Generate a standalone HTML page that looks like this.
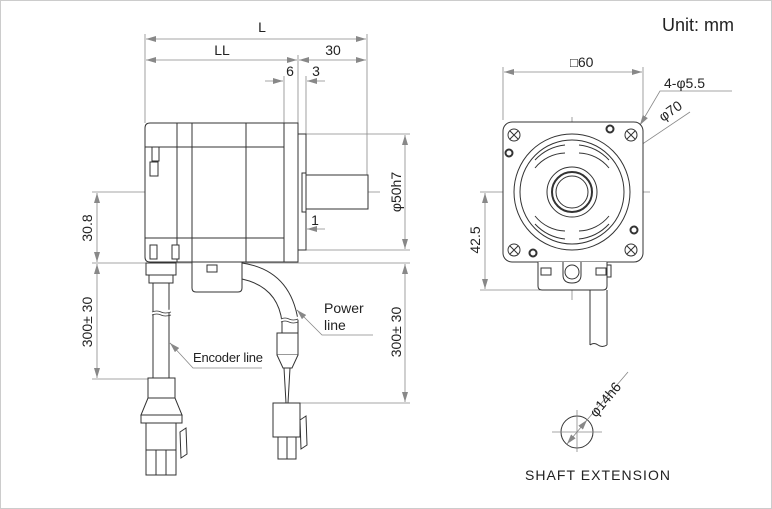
<!DOCTYPE html>
<html><head><meta charset="utf-8"><style>
html,body{margin:0;padding:0;background:#fff}
svg{display:block}
text{font-family:"Liberation Sans",sans-serif;fill:#222}
</style></head><body>
<svg width="772" height="509" viewBox="0 0 772 509" xmlns="http://www.w3.org/2000/svg">
<defs>
<marker id="a" viewBox="0 0 10 6" refX="10" refY="3" markerWidth="10" markerHeight="6" orient="auto-start-reverse" markerUnits="userSpaceOnUse"><path d="M0,0 L10,3 L0,6z" fill="#888"/></marker>
</defs>
<rect x="0.5" y="0.5" width="771" height="508" fill="#fff" stroke="#ccc"/>
<text x="662" y="31" font-size="18">Unit: mm</text>

<!-- dims thin gray -->
<g stroke="#888" stroke-width="0.8" fill="none">
<line x1="145" y1="34" x2="145" y2="123"/>
<line x1="367" y1="34" x2="367" y2="175"/>
<line x1="298" y1="55" x2="298" y2="123"/>
<line x1="284" y1="76" x2="284" y2="123"/>
<line x1="306" y1="76" x2="306" y2="134"/>
<line x1="146" y1="39" x2="366" y2="39" marker-start="url(#a)" marker-end="url(#a)"/>
<line x1="146" y1="60" x2="297" y2="60" marker-start="url(#a)" marker-end="url(#a)"/>
<line x1="299" y1="60" x2="366" y2="60" marker-start="url(#a)" marker-end="url(#a)"/>
<line x1="265" y1="81" x2="283" y2="81" marker-end="url(#a)"/>
<line x1="325" y1="81" x2="307" y2="81" marker-end="url(#a)"/>
<line x1="280" y1="229" x2="297" y2="229" marker-end="url(#a)"/>
<line x1="325" y1="229" x2="307" y2="229" marker-end="url(#a)"/>
<line x1="306" y1="134" x2="410" y2="134"/>
<line x1="306" y1="250" x2="410" y2="250"/>
<line x1="405" y1="135" x2="405" y2="249" marker-start="url(#a)" marker-end="url(#a)"/>
<line x1="92" y1="192" x2="380" y2="192"/>
<line x1="92" y1="263" x2="410" y2="263"/>
<line x1="97" y1="193" x2="97" y2="262" marker-start="url(#a)" marker-end="url(#a)"/>
<line x1="97" y1="264" x2="97" y2="378" marker-start="url(#a)" marker-end="url(#a)"/>
<line x1="92" y1="379" x2="148" y2="379"/>
<line x1="405" y1="264" x2="405" y2="402" marker-start="url(#a)" marker-end="url(#a)"/>
<line x1="300" y1="403" x2="410" y2="403"/>
<polyline points="170,343 193,368 262,368"/>
<polyline points="297,310 322,335 373,335"/>
<line x1="172" y1="345" x2="170" y2="343" marker-end="url(#a)"/>
<line x1="299" y1="312" x2="297" y2="310" marker-end="url(#a)"/>
</g>
<g font-size="14">
<text x="262" y="32" text-anchor="middle">L</text>
<text x="222" y="55" text-anchor="middle">LL</text>
<text x="333" y="55" text-anchor="middle">30</text>
<text x="290" y="76" text-anchor="middle">6</text>
<text x="316" y="76" text-anchor="middle">3</text>
<text x="315" y="225" text-anchor="middle">1</text>
<text transform="translate(401,192) rotate(-90)" text-anchor="middle">φ50h7</text>
<text transform="translate(92,228) rotate(-90)" text-anchor="middle">30.8</text>
<text transform="translate(92,322) rotate(-90)" text-anchor="middle">300± 30</text>
<text transform="translate(401,332) rotate(-90)" text-anchor="middle">300± 30</text>
<text x="324" y="313">Power</text>
<text x="324" y="330">line</text>
<text x="193" y="362" font-size="13" textLength="70">Encoder line</text>
</g>

<!-- motor side -->
<g stroke="#333" stroke-width="1" fill="#fff">
<path d="M150,123 H177 V262 H150 Q145,262 145,257 V128 Q145,123 150,123z"/>
<line x1="145" y1="147" x2="177" y2="147"/>
<line x1="145" y1="238" x2="177" y2="238"/>
<rect x="177" y="123" width="107" height="139"/>
<line x1="177" y1="147" x2="284" y2="147"/>
<line x1="177" y1="238" x2="284" y2="238"/>
<line x1="192" y1="123" x2="192" y2="262"/>
<line x1="246" y1="123" x2="246" y2="262"/>
<rect x="284" y="123" width="14" height="139"/>
<rect x="298" y="134" width="8" height="116"/>
<rect x="302" y="173" width="4" height="39"/>
<rect x="306" y="175" width="62" height="34"/>
<rect x="152" y="147" width="7" height="14"/>
<rect x="150" y="162" width="8" height="14"/>
<rect x="150" y="245" width="7" height="14"/>
<rect x="172" y="245" width="7" height="14"/>
<!-- encoder block -->
<path d="M192,262 H242 V288 Q242,292 238,292 H196 Q192,292 192,288z"/>
<rect x="207" y="265" width="10" height="7"/>
<!-- gland -->
<rect x="146" y="263" width="30" height="12"/>
<rect x="149" y="275" width="24" height="8"/>
<rect x="153" y="283" width="16" height="95"/>
<rect x="148" y="378" width="27" height="20"/>
<path d="M148,398 L141,415 H182 L175,398z"/>
<rect x="141" y="415" width="41" height="8"/>
<rect x="146" y="423" width="30" height="27"/>
<rect x="146" y="450" width="10" height="25"/>
<rect x="156" y="450" width="10" height="25"/>
<rect x="166" y="450" width="10" height="25"/>
<path d="M180,432 L186,428 L187,454 L181,458z"/>
<!-- power cable -->
<path d="M242,263 Q290,270 298,320 V335 H282 V322 Q278,287 242,279z"/>
<rect x="277" y="333" width="21" height="22"/>
<path d="M277,355 L283,368 H292 L298,355"/>
<path d="M284,368 L286,403 M290,368 L288,403" fill="none"/>
<rect x="273" y="403" width="27" height="34"/>
<rect x="278" y="437" width="9" height="22"/>
<rect x="287" y="437" width="9" height="22"/>
<path d="M300,420 L306,416 L307,445 L301,449z"/>
</g>
<g stroke="#fff" stroke-width="3">
<line x1="150" y1="313" x2="172" y2="311"/>
<line x1="280" y1="320" x2="300" y2="318"/>
</g>
<g stroke="#333" stroke-width="0.8" fill="none">
<path d="M152,312 q5,-2 9,0 t10,0 M152,315 q5,-2 9,0 t10,0"/>
<path d="M281,319 q4,-2 8,0 t9,0 M281,322 q4,-2 8,0 t9,0"/>
</g>

<!-- front view -->
<g stroke="#888" stroke-width="0.8" fill="none">
<line x1="503" y1="67" x2="503" y2="120"/>
<line x1="643" y1="67" x2="643" y2="120"/>
<line x1="504" y1="72" x2="642" y2="72" marker-start="url(#a)" marker-end="url(#a)"/>
<line x1="480" y1="192" x2="650" y2="192"/>
<line x1="572" y1="117" x2="572" y2="300"/>
<line x1="480" y1="290" x2="540" y2="290"/>
<line x1="485" y1="193" x2="485" y2="289" marker-start="url(#a)" marker-end="url(#a)"/>
<line x1="512" y1="233" x2="632" y2="151" marker-start="url(#a)" marker-end="url(#a)"/>
<line x1="632" y1="151" x2="690" y2="112"/>
<polyline points="732,91 660,91 640,125"/>
<line x1="645" y1="117" x2="640" y2="125" marker-end="url(#a)"/>
</g>
<g font-size="14">
<text x="570" y="67"><tspan font-size="13">□</tspan>60</text>
<text x="664" y="88">4-φ5.5</text>
<text transform="translate(663,122) rotate(-35)">φ70</text>
<text transform="translate(480,240) rotate(-90)" text-anchor="middle">42.5</text>
</g>
<g stroke="#333" stroke-width="1" fill="none">
<rect x="503" y="122" width="140" height="140" rx="9" fill="#fff"/>
<circle cx="572" cy="192" r="58"/>
<circle cx="572" cy="192" r="52"/>
<path d="M535,160 A48,48 0 0 1 565,145 M579,145 A48,48 0 0 1 609,160 M609,224 A48,48 0 0 1 579,239 M565,239 A48,48 0 0 1 535,224"/>
<path d="M535,168 A40,40 0 0 1 565,153 M579,153 A40,40 0 0 1 609,168 M609,216 A40,40 0 0 1 579,231 M565,231 A40,40 0 0 1 535,216"/>
<circle cx="572" cy="192" r="25"/>
<circle cx="572" cy="192" r="20" stroke-width="2"/>
<circle cx="572" cy="192" r="16"/>
<g>
<circle cx="514" cy="135" r="6"/><path d="M510,131 l8,8 M518,131 l-8,8"/>
<circle cx="631" cy="135" r="6"/><path d="M627,131 l8,8 M635,131 l-8,8"/>
<circle cx="514" cy="250" r="6"/><path d="M510,246 l8,8 M518,246 l-8,8"/>
<circle cx="631" cy="250" r="6"/><path d="M627,246 l8,8 M635,246 l-8,8"/>
</g>
<circle cx="509" cy="153" r="3.5" stroke-width="2"/>
<circle cx="610" cy="129" r="3.5" stroke-width="2"/>
<circle cx="634" cy="230" r="3.5" stroke-width="2"/>
<circle cx="533" cy="253" r="3.5" stroke-width="2"/>
<path d="M538,262 V286 Q538,290 542,290 H603 Q607,290 607,286 V262" fill="#fff"/>
<rect x="541" y="268" width="10" height="7"/>
<rect x="596" y="268" width="10" height="7"/>
<path d="M563,262 V275 Q563,283 572,283 Q581,283 581,275 V262"/>
<circle cx="572" cy="272" r="7"/>
<rect x="607" y="265" width="4" height="12"/>
<path d="M590,290 V345 M607,290 V345"/>
<path d="M590,345 q4,-3 8,0 t9,0"/>
<circle cx="577" cy="432" r="16"/>
</g>
<g stroke="#888" stroke-width="0.8" fill="none">
<line x1="577" y1="410" x2="577" y2="452"/>
<line x1="552" y1="432" x2="602" y2="432"/>
<line x1="567" y1="444" x2="587" y2="420" marker-start="url(#a)" marker-end="url(#a)"/>
<line x1="587" y1="420" x2="628" y2="372"/>
</g>
<text transform="translate(596,418) rotate(-50)" font-size="14">φ14h6</text>
<text x="525" y="480" font-size="14" textLength="145">SHAFT EXTENSION</text>
</svg>
</body></html>
